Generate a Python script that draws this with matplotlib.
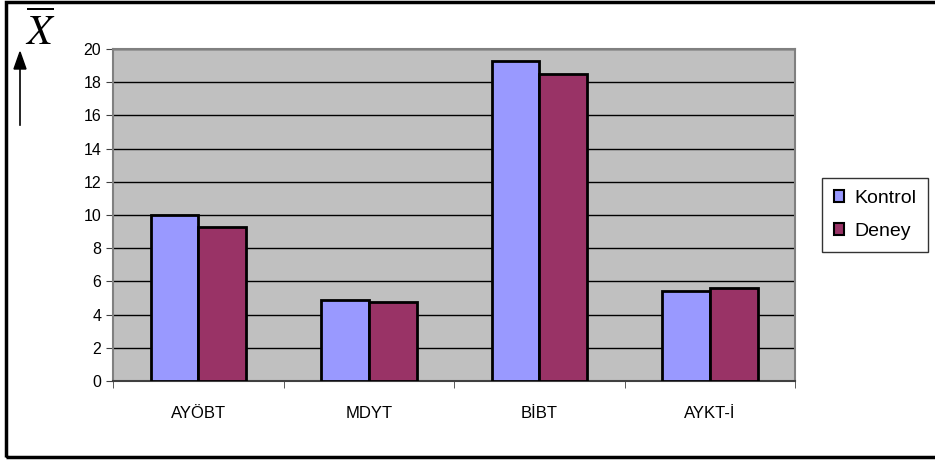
import numpy as np
import matplotlib.pyplot as plt
from matplotlib.patches import Rectangle

plt.rcParams['font.family'] = ['Liberation Sans', 'DejaVu Sans']

categories = ["AYÖBT", "MDYT", "BİBT", "AYKT-İ"]
kontrol = [10.0, 4.9, 19.3, 5.4]
deney = [9.3, 4.75, 18.5, 5.6]

fig = plt.figure(figsize=(9.35, 4.61), dpi=100)
ax = fig.add_axes([0.1209, 0.1735, 0.7294, 0.7202])
ax.set_facecolor("#C0C0C0")

x = np.arange(len(categories))
w = 0.28
ax.bar(x - w / 2, kontrol, w, color="#9999FF", edgecolor="black", linewidth=2, label="Kontrol", zorder=3)
ax.bar(x + w / 2, deney, w, color="#993366", edgecolor="black", linewidth=2, label="Deney", zorder=3)

ax.set_xlim(-0.5, len(categories) - 0.5)
ax.set_ylim(0, 20)
ax.set_yticks(range(0, 21, 2))
ax.yaxis.grid(True, color="black", linewidth=1, zorder=1)
ax.set_axisbelow(True)

ax.set_xticks(x)
ax.set_xticklabels(categories, fontsize=12)
ax.tick_params(axis="x", length=0, pad=18)
ax.set_xticks(np.arange(-0.5, len(categories), 1), minor=True)
ax.tick_params(axis="x", which="minor", length=5, color="#404040", direction="out")
ax.tick_params(axis="y", labelsize=11.5, length=5, color="#404040", direction="out")

for s in ["left", "right", "top"]:
    ax.spines[s].set_color("#808080")
    ax.spines[s].set_linewidth(1.5)
ax.spines["bottom"].set_color("#404040")
ax.spines["bottom"].set_linewidth(1.5)

leg = fig.legend(loc="upper left", bbox_to_anchor=(822 / 935, 1 - 178 / 461),
                 fontsize=14, frameon=True, fancybox=False, edgecolor="black",
                 handlelength=0.55, handleheight=0.55, handletextpad=0.5,
                 labelspacing=0.85, borderpad=0.6, borderaxespad=0)
leg.get_frame().set_linewidth(1)
for h in leg.legend_handles:
    h.set_linewidth(1.5)

# y-axis label: X bar with upward arrow
fig.text(40 / 935, 1 - 32 / 461, r"$\overline{X}$", fontsize=30,
         ha="center", va="center", math_fontfamily="stix")
fig.add_artist(plt.Line2D([20 / 935, 20 / 935], [1 - 125 / 461, 1 - 65 / 461],
                          color="black", linewidth=1.2, transform=fig.transFigure))
fig.patches.append(plt.Polygon([[14 / 935, 1 - 69 / 461], [26 / 935, 1 - 69 / 461],
                                [20 / 935, 1 - 52 / 461]], closed=True, color="black",
                               transform=fig.transFigure, figure=fig))

# outer frame
fig.patches.append(Rectangle((6 / 935, 4 / 461), 1.0, 1 - 6 / 461, fill=False,
                             edgecolor="black", linewidth=2.5,
                             transform=fig.transFigure, figure=fig))

fig.savefig("out.png", dpi=100)
